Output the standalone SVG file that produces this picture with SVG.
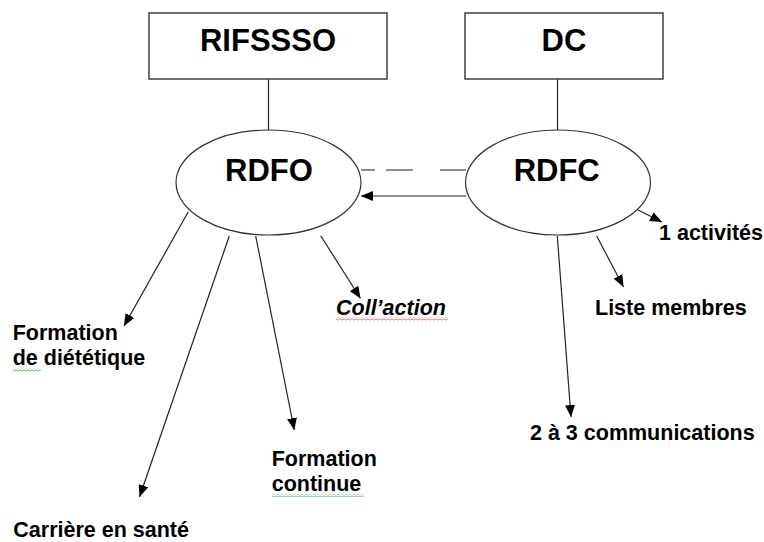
<svg xmlns="http://www.w3.org/2000/svg" width="764" height="542" viewBox="0 0 764 542">
<defs>
<style>
.box{fill:#fff;stroke:#404040;stroke-width:1.5}
.ell{fill:#fff;stroke:#333;stroke-width:1.2}
.big{font-family:"Liberation Sans",Arial,sans-serif;font-weight:bold;font-size:31px;fill:#000;text-anchor:middle}
.lbl{font-family:"Liberation Sans",Arial,sans-serif;font-weight:bold;font-size:21.5px;fill:#000}
.ln{stroke:#222;stroke-width:1.2;fill:none}
.arr{stroke:#222;stroke-width:1.2;fill:none;marker-end:url(#ah)}
</style>
<marker id="ah" markerUnits="userSpaceOnUse" markerWidth="12" markerHeight="10" refX="12" refY="5" orient="auto">
<path d="M0,0 L12,5 L0,10 z" fill="#000"/>
</marker>
<pattern id="wr" width="4" height="3" patternUnits="userSpaceOnUse"><path d="M0 0.5 L2 2.5 L4 0.5" stroke="#e03030" fill="none" stroke-width="0.9"/></pattern>
<pattern id="wg" width="4" height="3" patternUnits="userSpaceOnUse"><path d="M0 0.5 L2 2.5 L4 0.5" stroke="#30a030" fill="none" stroke-width="0.9"/></pattern>
</defs>
<rect width="764" height="542" fill="#fff"/>
<g id="connectors">
<line class="ln" x1="268.5" y1="79" x2="268.5" y2="130"/>
<line class="ln" x1="557.5" y1="79" x2="557.5" y2="130"/>
<path class="ln" d="M361 170H375M386 170H413M440 170H466"/>
<line class="arr" x1="466" y1="196" x2="361" y2="196"/>
<line class="arr" x1="188.3" y1="211.7" x2="124" y2="326"/>
<line class="arr" x1="229.3" y1="236" x2="139.5" y2="497"/>
<line class="arr" x1="255.7" y1="236" x2="294.3" y2="430"/>
<line class="arr" x1="320.7" y1="235.7" x2="360.5" y2="298.5"/>
<line class="arr" x1="638" y1="210" x2="662" y2="222"/>
<line class="arr" x1="596.7" y1="236" x2="623.5" y2="287"/>
<line class="arr" x1="557.3" y1="236" x2="571" y2="417"/>
</g>
<g id="RIFSSSO">
<rect class="box" x="149" y="13" width="238" height="66"/>
<text class="big" x="268" y="50.7">RIFSSSO</text>
</g>
<g id="DC">
<rect class="box" x="465" y="13" width="198" height="66"/>
<text class="big" x="564" y="50.7">DC</text>
</g>
<g id="RDFO">
<ellipse class="ell" cx="268.5" cy="182.5" rx="92.5" ry="52.5"/>
<text class="big" x="269" y="181">RDFO</text>
</g>
<g id="RDFC">
<ellipse class="ell" cx="558" cy="182.5" rx="92.5" ry="52.5"/>
<text class="big" x="556.7" y="181">RDFC</text>
</g>
<g id="formation-dietetique">
<text class="lbl" x="12.7" y="340">Formation</text>
<text class="lbl" x="12.7" y="365">de diététique</text>
<rect x="13" y="368.5" width="28" height="3" fill="url(#wg)"/>
</g>
<g id="carriere">
<text class="lbl" x="13.3" y="536.5">Carrière en santé</text>
</g>
<g id="formation-continue">
<text class="lbl" x="271.7" y="466">Formation</text>
<text class="lbl" x="271.7" y="491">continue</text>
<rect x="272" y="494" width="92" height="3" fill="url(#wg)"/>
</g>
<g id="collaction">
<text class="lbl" x="336" y="315" font-style="italic">Coll’action</text>
<rect x="336" y="317.5" width="112" height="3" fill="url(#wr)"/>
</g>
<g id="activites">
<text class="lbl" x="659" y="240">1 activités</text>
</g>
<g id="liste-membres">
<text class="lbl" x="595" y="315">Liste membres</text>
</g>
<g id="communications">
<text class="lbl" x="530" y="440">2 à 3 communications</text>
</g>
</svg>
